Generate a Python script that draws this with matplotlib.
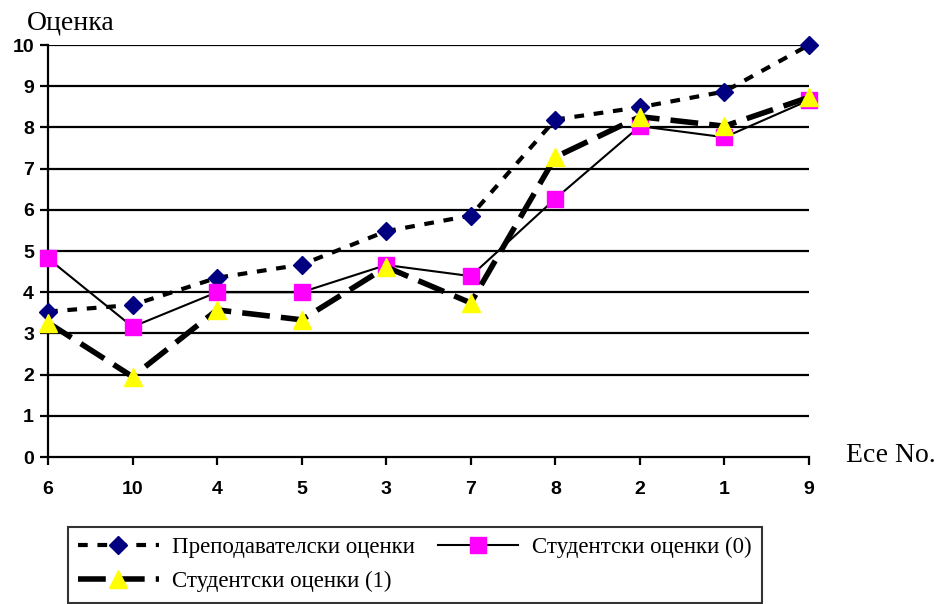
import matplotlib.pyplot as plt
import numpy as np

plt.rcParams['lines.scale_dashes'] = False

essays = ['6', '10', '4', '5', '3', '7', '8', '2', '1', '9']
teacher = [3.53, 3.69, 4.35, 4.67, 5.48, 5.86, 8.19, 8.49, 8.87, 10.0]
student0 = [4.82, 3.16, 4.0, 4.0, 4.66, 4.39, 6.27, 8.03, 7.76, 8.66]
student1 = [3.26, 1.95, 3.57, 3.33, 4.61, 3.74, 7.28, 8.26, 8.03, 8.73]

labels = ['Преподавателски оценки', 'Студентски оценки (0)', 'Студентски оценки (1)']

fig = plt.figure(figsize=(9.41, 6.04), dpi=100)
ax = fig.add_axes([48 / 941, 1 - 457 / 604, 761 / 941, 412 / 604])

x = np.arange(len(essays))

l1, = ax.plot(x, teacher, color='black', linewidth=3, dashes=(7, 7),
              marker='D', markersize=9, markerfacecolor='#000080',
              markeredgecolor='#000080', label=labels[0], zorder=3,
              clip_on=False)
l2, = ax.plot(x, student0, color='black', linewidth=1.5,
              marker='s', markersize=11, markerfacecolor='#ff00ff',
              markeredgecolor='#ff00ff', label=labels[1], zorder=4,
              clip_on=False)
l3, = ax.plot(x, student1, color='black', linewidth=4, dashes=(20, 8),
              marker='^', markersize=13, markerfacecolor='#ffff00',
              markeredgecolor='#ffff00', label=labels[2], zorder=5,
              clip_on=False)

ax.set_xlim(0, len(essays) - 1)
ax.set_ylim(0, 10)
ax.set_xticks(x)
ax.set_xticklabels(essays)
ax.set_yticks(range(0, 11))

for y in range(1, 11):
    ax.axhline(y, color='black', linewidth=1.6, zorder=1)

for s in ['top', 'right']:
    ax.spines[s].set_visible(False)
ax.spines['left'].set_linewidth(1.6)
ax.spines['bottom'].set_linewidth(1.6)
ax.spines['left'].set_zorder(2)

ax.tick_params(axis='both', direction='out', length=6, width=1.6, pad=4,
               colors='black')
for lab in ax.get_xticklabels() + ax.get_yticklabels():
    lab.set_fontfamily('Liberation Sans')
    lab.set_fontweight('bold')
    lab.set_fontsize(14)
ax.tick_params(axis='x', pad=11)

fig.text(27 / 941, 1 - 23 / 604, 'Оценка', family='Liberation Serif',
         fontsize=20, va='center', ha='left')
fig.text(846 / 941, 1 - 456 / 604, 'Есе No.', family='Liberation Serif',
         fontsize=20, va='center', ha='left')

# column-major fill: [l1, l3] in column 1, [l2] in column 2
leg = fig.legend(handles=[l1, l3, l2], labels=[labels[0], labels[2], labels[1]],
                 ncol=2, loc='upper left',
                 bbox_to_anchor=(68 / 941, 1 - 527 / 604),
                 prop={'family': 'Liberation Serif', 'size': 16.5},
                 frameon=True, fancybox=False, edgecolor='black',
                 handlelength=3.5, handletextpad=0.6, columnspacing=1.0,
                 borderpad=0.45, labelspacing=0.55, borderaxespad=0)
leg.get_frame().set_linewidth(1.5)

fig.savefig('out.png', dpi=100)
